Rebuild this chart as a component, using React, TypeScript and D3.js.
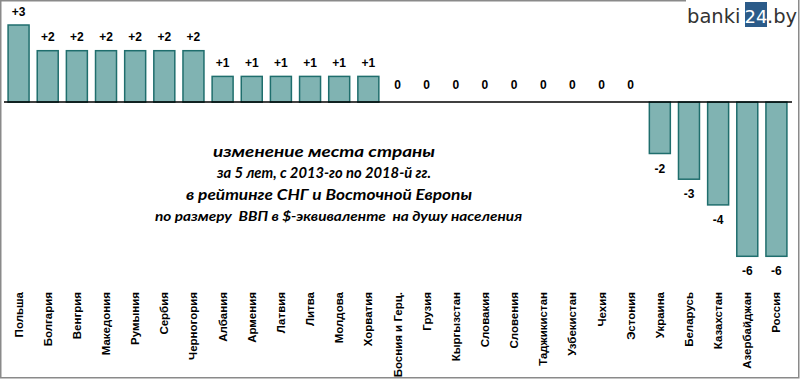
import React from "react";
import * as d3 from "d3";

const categories = [
  "Польша", "Болгария", "Венгрия", "Македония", "Румыния", "Сербия", "Черногория",
  "Албания", "Армения", "Латвия", "Литва", "Молдова", "Хорватия", "Босния и Герц.",
  "Грузия", "Кыргызстан", "Словакия", "Словения", "Таджикистан", "Узбекистан",
  "Чехия", "Эстония", "Украина", "Беларусь", "Казахстан", "Азербайджан", "Россия",
];
const values = [3, 2, 2, 2, 2, 2, 2, 1, 1, 1, 1, 1, 1, 0, 0, 0, 0, 0, 0, 0, 0, 0, -2, -3, -4, -6, -6];
const yDomain = [-6, 3];
const titleLines = [
  "изменение места страны",
  "за 5 лет, с 2013-го по 2018-й гг.",
  "в рейтинге СНГ и Восточной Европы",
  "по размеру  ВВП в $-эквиваленте  на душу населения",
];

const W = 800;
const H = 379;

export default function App() {
  const x = d3.scaleBand<string>().domain(categories).range([4, 791]).paddingInner(0.28).paddingOuter(0.14);
  const y = d3.scaleLinear().domain(yDomain).range([256.3, 25]);
  const y0 = y(0);
  const fmt = (v: number) => (v > 0 ? "+" + v : String(v));
  const labelFont = "'Liberation Sans', Arial, sans-serif";
  const titleFont = "Lato, 'Open Sans', sans-serif";
  const titleX = [213, 217, 186, 155];
  const titleLen = [222, 214, 286, 367];
  const titleY = [157, 178, 200, 221];
  const titleSize = [16, 16, 16, 14];
  const logoFont = "'DejaVu Sans', Verdana, sans-serif";

  return (
    <svg width={W} height={H} style={{ position: "absolute", left: 0, top: 0, background: "#fff" }}>
      <rect x={0} y={0} width={W} height={H} fill="#fff" />
      <path d="M686,0.75 H0.75 V377.75 H798.75 V0" fill="none" stroke="#8a8a8a" strokeWidth={1.5} />
      {/* bars */}
      {categories.map((c, i) => {
        const v = values[i];
        if (v === 0) return null;
        const top = Math.min(y(v), y0);
        const h = Math.abs(y(v) - y0);
        return (
          <rect key={c} x={x(c)} y={top} width={x.bandwidth()} height={h}
            fill="#80B3B2" stroke="#1F6E6D" strokeWidth={1.5} />
        );
      })}
      <line x1={4} x2={792} y1={y0} y2={y0} stroke="#000" strokeWidth={1.5} />
      {/* value labels */}
      {categories.map((c, i) => {
        const v = values[i];
        const cx = (x(c) as number) + x.bandwidth() / 2;
        const ly = v > 0 ? y(v) - 9.5 : v < 0 ? y(v) + 19 : y0 - 12.7;
        return (
          <text key={c} x={cx} y={ly} textAnchor="middle" fontFamily={labelFont}
            fontWeight="bold" fontSize={12} fill="#000">{fmt(v)}</text>
        );
      })}
      {/* category labels */}
      {categories.map((c) => {
        const cx = (x(c) as number) + x.bandwidth() / 2;
        return (
          <text key={c} transform={`translate(${cx + 4},292) rotate(-90)`} textAnchor="end"
            fontFamily="'Liberation Sans Narrow', 'Arial Narrow', 'Liberation Sans', sans-serif"
            fontWeight="bold" fontSize={11.5} fill="#000">{c}</text>
        );
      })}
      {/* title */}
      {titleLines.map((t, i) => (
        <text key={i} x={titleX[i]} y={titleY[i]} textLength={titleLen[i]} lengthAdjust="spacingAndGlyphs"
          fontFamily={titleFont} fontStyle="italic" fontWeight="bold" fontSize={titleSize[i]} fill="#000"
          style={{ whiteSpace: "pre" }}>{t}</text>
      ))}
      {/* logo */}
      <rect x={745} y={2} width={22} height={25} fill="#2B5B89" />
      <text x={687} y={23} fontFamily={logoFont} fontSize={19.5} fill="#333">banki</text>
      <text x={756} y={23} textAnchor="middle" fontFamily={logoFont} fontSize={18} fill="#fff">24</text>
      <text x={767} y={23} fontFamily={logoFont} fontSize={19.5} fill="#333">.by</text>
    </svg>
  );
}
